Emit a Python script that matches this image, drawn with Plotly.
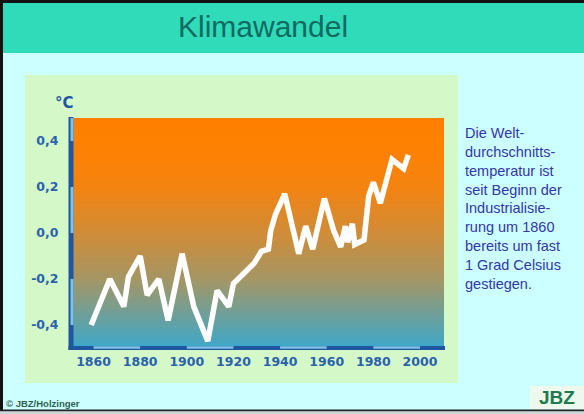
import plotly.graph_objects as go
import numpy as np

# temperature anomaly (year, °C)
years = [1859, 1867, 1873, 1875, 1880, 1883, 1888, 1892, 1898, 1903, 1905, 1909,
         1913, 1918, 1920, 1924, 1929, 1932, 1935, 1936, 1938, 1942, 1948, 1951,
         1954, 1959, 1963, 1966, 1968, 1969, 1971, 1972, 1976, 1978, 1980, 1983,
         1988, 1993, 1995]
temps = [-0.40, -0.20, -0.32, -0.19, -0.10, -0.27, -0.20, -0.38, -0.09, -0.32, -0.37, -0.47,
         -0.25, -0.32, -0.22, -0.18, -0.13, -0.08, -0.07, 0.01, 0.08, 0.17, -0.09, 0.03,
         -0.07, 0.15, 0.01, -0.06, 0.03, -0.04, 0.04, -0.05, -0.03, 0.16, 0.22, 0.13,
         0.32, 0.28, 0.34]

x_ticks = [1860, 1880, 1900, 1920, 1940, 1960, 1980, 2000]
y_ticks = [-0.4, -0.2, 0.0, 0.2, 0.4]
y_labels = ["-0,4", "-0,2", "0,0", "0,2", "0,4"]

title = "Klimawandel"
side_text = ["Die Welt-", "durchschnitts-", "temperatur ist", "seit Beginn der",
             "Industrialisie-", "rung um 1860", "bereits um fast", "1 Grad Celsius",
             "gestiegen."]

W, H = 584, 414
X_RANGE = [1851.2, 2010.3]
Y_RANGE = [-0.5, 0.5]
DARK_BLUE = "#1f56a2"
LIGHT_BLUE = "#80c2e2"
TICK_BLUE = "#2a62ad"


def px(x):
    return x / W


def py(y):
    return 1 - y / H


fig = go.Figure()

# gradient background of the plot area
grad_y = np.linspace(Y_RANGE[0], Y_RANGE[1], 101)
fig.add_trace(go.Heatmap(
    x=X_RANGE, y=grad_y, z=[[v, v] for v in grad_y],
    zmin=Y_RANGE[0], zmax=Y_RANGE[1], showscale=False, hoverinfo="skip",
    colorscale=[[0.0, "rgb(62,168,202)"], [0.1, "rgb(95,162,168)"],
                [0.3, "rgb(165,150,100)"], [0.5, "rgb(208,140,55)"],
                [0.7, "rgb(244,131,16)"], [0.85, "rgb(253,129,4)"],
                [1.0, "rgb(255,128,0)"]],
))

fig.add_trace(go.Scatter(
    x=years, y=temps, mode="lines",
    line=dict(color="white", width=5.5), hoverinfo="skip",
))

shapes = [
    # slide frame
    dict(type="rect", xref="paper", yref="paper", x0=px(0), x1=px(W), y0=py(3), y1=py(53),
         fillcolor="#2fdbb9", line_width=0, layer="below"),
    dict(type="rect", xref="paper", yref="paper", x0=px(25), x1=px(458), y0=py(75), y1=py(383),
         fillcolor="#d5f8c8", line_width=0, layer="below"),
    dict(type="rect", xref="paper", yref="paper", x0=px(530), x1=px(W), y0=py(386), y1=py(409),
         fillcolor="#eef9ee", line_width=0, layer="below"),
    dict(type="rect", xref="paper", yref="paper", x0=px(0), x1=px(3), y0=py(0), y1=py(411),
         fillcolor="#111111", line_width=0),
    dict(type="rect", xref="paper", yref="paper", x0=px(0), x1=px(W), y0=py(0), y1=py(3),
         fillcolor="#111111", line_width=0),
    dict(type="rect", xref="paper", yref="paper", x0=px(0), x1=px(W), y0=py(409.5), y1=py(411.5),
         fillcolor="#222222", line_width=0),
    dict(type="rect", xref="paper", yref="paper", x0=px(0), x1=px(W), y0=py(411.5), y1=py(H),
         fillcolor="#cfd6d6", line_width=0),
    # axis rulers, dark base
    dict(type="line", xref="paper", yref="paper", x0=px(71), x1=px(71), y0=py(117), y1=py(350),
         line=dict(color=DARK_BLUE, width=5)),
    dict(type="line", xref="paper", yref="paper", x0=px(68.5), x1=px(445), y0=py(348), y1=py(348),
         line=dict(color=DARK_BLUE, width=4)),
]

# light segments, alternating between tick marks
y_bounds = [Y_RANGE[0]] + y_ticks + [Y_RANGE[1]]
for i in range(1, len(y_bounds) - 1, 2):
    shapes.append(dict(type="line", xref="paper", yref="y", x0=px(72), x1=px(72),
                       y0=y_bounds[i], y1=y_bounds[i + 1],
                       line=dict(color=LIGHT_BLUE, width=3)))
x_bounds = [X_RANGE[0]] + x_ticks + [X_RANGE[1]]
for i in range(1, len(x_bounds) - 1, 2):
    shapes.append(dict(type="line", xref="x", yref="paper", x0=x_bounds[i], x1=x_bounds[i + 1],
                       y0=py(347.5), y1=py(347.5),
                       line=dict(color=LIGHT_BLUE, width=2.5)))

annotations = [
    dict(text=title, x=px(263), y=py(26), xanchor="center", yanchor="middle",
         font=dict(family="Liberation Sans, Arial", size=30, color="#116a61")),
    dict(text="<br>".join(side_text), x=px(463), y=py(123),
         xanchor="left", yanchor="top", align="left",
         font=dict(family="Liberation Sans, Arial", size=14.5, color="#3436a6")),
    dict(text="°C", x=px(64), y=py(103), xanchor="center", yanchor="middle",
         font=dict(family="DejaVu Sans", size=15, color=DARK_BLUE, weight="bold")),
    dict(text="© JBZ/Holzinger", x=px(4), y=py(403.5), xanchor="left", yanchor="middle",
         font=dict(family="Liberation Sans, Arial", size=9.5, color="#2f5f52", weight="bold")),
    dict(text="JBZ", x=px(557), y=py(397), xanchor="center", yanchor="middle",
         font=dict(family="Liberation Sans, Arial", size=19, color="#1d7a4f", weight="bold")),
]
for a in annotations:
    a.update(xref="paper", yref="paper", showarrow=False)

fig.update_layout(
    width=W, height=H,
    margin=dict(l=0, r=0, t=0, b=0),
    paper_bgcolor="#ccffff",
    plot_bgcolor="rgba(0,0,0,0)",
    showlegend=False,
    shapes=shapes,
    annotations=annotations,
    xaxis=dict(
        domain=[px(73), px(444)], range=X_RANGE, tickvals=x_ticks,
        showgrid=False, zeroline=False, showline=False,
        ticks="outside", ticklen=2, tickcolor="rgba(0,0,0,0)",
        tickfont=dict(family="DejaVu Sans", size=12.5, color=TICK_BLUE, weight="bold"),
        fixedrange=True,
    ),
    yaxis=dict(
        domain=[py(348), py(118)], range=Y_RANGE, tickvals=y_ticks, ticktext=y_labels,
        showgrid=False, zeroline=False, showline=False,
        ticks="outside", ticklen=11, tickcolor="rgba(0,0,0,0)",
        tickfont=dict(family="DejaVu Sans", size=12.5, color=TICK_BLUE, weight="bold"),
        fixedrange=True,
    ),
)

# drop the default body margin so the figure sits flush in the window
fig.write_html("out.html", config={"displayModeBar": False},
               post_script="document.body.style.margin='0';")
